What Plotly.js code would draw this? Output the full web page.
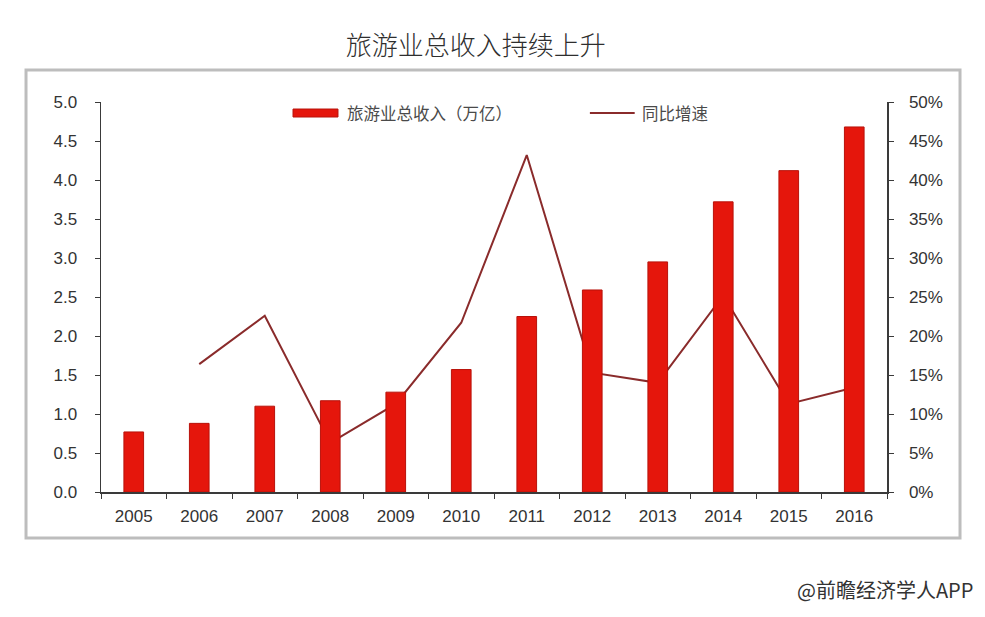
<!DOCTYPE html>
<html>
<head>
<meta charset="utf-8">
<script src="https://cdn.plot.ly/plotly-3.0.1.min.js"></script>
<style>
html,body{margin:0;padding:0;background:#fff;}
#chart{width:985px;height:617px;}
</style>
</head>
<body>
<div id="chart"></div>
<script>
const years = ['2005','2006','2007','2008','2009','2010','2011','2012','2013','2014','2015','2016'];
const revenue = [0.77, 0.88, 1.10, 1.17, 1.28, 1.57, 2.25, 2.59, 2.95, 3.72, 4.12, 4.68];
const growth = [null, 0.164, 0.226, 0.063, 0.113, 0.217, 0.432, 0.153, 0.140, 0.252, 0.113, 0.134];
const leftTicks = [0, 0.5, 1, 1.5, 2, 2.5, 3, 3.5, 4, 4.5, 5];
const rightTicks = [0, 0.05, 0.1, 0.15, 0.2, 0.25, 0.3, 0.35, 0.4, 0.45, 0.5];
const barName = '旅游业总收入（万亿）';
const lineName = '同比增速';
const titleText = '旅游业总收入持续上升';
const sourceText = '@前瞻经济学人APP';

const barColor = '#e5160c';
const lineColor = '#8a2b2b';
const axisColor = '#3a3a3a';
const txtColor = '#333333';
const fontFam = 'Liberation Sans, Arial, sans-serif';
const cjkFam = 'Noto Sans CJK SC, sans-serif';

// line drawn on the base axis (right side) so that bars (overlaying axis) sit on top of it
const traces = [
  {
    type: 'scatter', mode: 'lines', x: years, y: growth, name: lineName,
    line: {color: lineColor, width: 2}, yaxis: 'y', showlegend: false,
    connectgaps: false
  },
  {
    type: 'bar', x: years, y: revenue, name: barName, width: 0.3,
    marker: {color: barColor, line: {color: '#b8120a', width: 1}},
    yaxis: 'y2', showlegend: false
  }
];

const tickFont = {family: fontFam, size: 17, color: txtColor};

const layout = {
  width: 985, height: 617,
  margin: {l: 101, r: 98, t: 102, b: 125},
  paper_bgcolor: '#ffffff', plot_bgcolor: '#ffffff',
  title: {
    text: titleText, x: 0.483, xanchor: 'center', xref: 'container',
    y: 0.925, yanchor: 'middle', yref: 'container',
    font: {family: cjkFam, size: 26, color: '#2e2e2e', weight: 300}
  },
  xaxis: {
    type: 'category', showline: true, linecolor: axisColor, linewidth: 1.5,
    ticks: 'outside', ticklen: 5, tickcolor: axisColor, tickson: 'boundaries',
    tickfont: tickFont, ticklabelstandoff: 8,
    showgrid: false, zeroline: false
  },
  yaxis: {
    range: [0, 0.5], tickvals: rightTicks, tickformat: '.0%', side: 'right',
    showline: true, linecolor: axisColor, linewidth: 1.5,
    ticks: 'outside', ticklen: 5, tickcolor: axisColor,
    tickfont: tickFont, ticklabelstandoff: 12,
    showgrid: false, zeroline: false
  },
  yaxis2: {
    range: [0, 5], tickvals: leftTicks, tickformat: '.1f',
    overlaying: 'y', side: 'left',
    showline: true, linecolor: axisColor, linewidth: 1.5,
    ticks: 'outside', ticklen: 5, tickcolor: axisColor,
    tickfont: tickFont, ticklabelstandoff: 14,
    showgrid: false, zeroline: false
  },
  shapes: [
    {type: 'rect', xref: 'paper', yref: 'paper', x0: -0.0954, x1: 1.0929, y0: -0.118, y1: 1.082,
     line: {color: '#bdbdbd', width: 3}, fillcolor: 'rgba(0,0,0,0)', layer: 'below'},
    {type: 'rect', xref: 'paper', yref: 'paper', x0: 0.2443, x1: 0.3015, y0: 0.9615, y1: 0.982,
     line: {color: '#b8120a', width: 1}, fillcolor: barColor},
    {type: 'line', xref: 'paper', yref: 'paper', x0: 0.622, x1: 0.679, y0: 0.9718, y1: 0.9718,
     line: {color: lineColor, width: 2}}
  ],
  annotations: [
    {text: barName, xref: 'paper', yref: 'paper', x: 0.3104, y: 0.9718, xanchor: 'left', yanchor: 'middle',
     showarrow: false, font: {family: cjkFam, size: 16.5, color: '#4a4a4a'}},
    {text: lineName, xref: 'paper', yref: 'paper', x: 0.6858, y: 0.9718, xanchor: 'left', yanchor: 'middle',
     showarrow: false, font: {family: cjkFam, size: 16.5, color: '#4a4a4a'}},
    {text: sourceText, xref: 'paper', yref: 'paper', x: 1.112, y: -0.251, xanchor: 'right', yanchor: 'middle',
     showarrow: false, font: {family: cjkFam, size: 20, color: '#333'}}
  ]
};

Plotly.newPlot('chart', traces, layout, {displayModeBar: false, staticPlot: true});
</script>
</body>
</html>
